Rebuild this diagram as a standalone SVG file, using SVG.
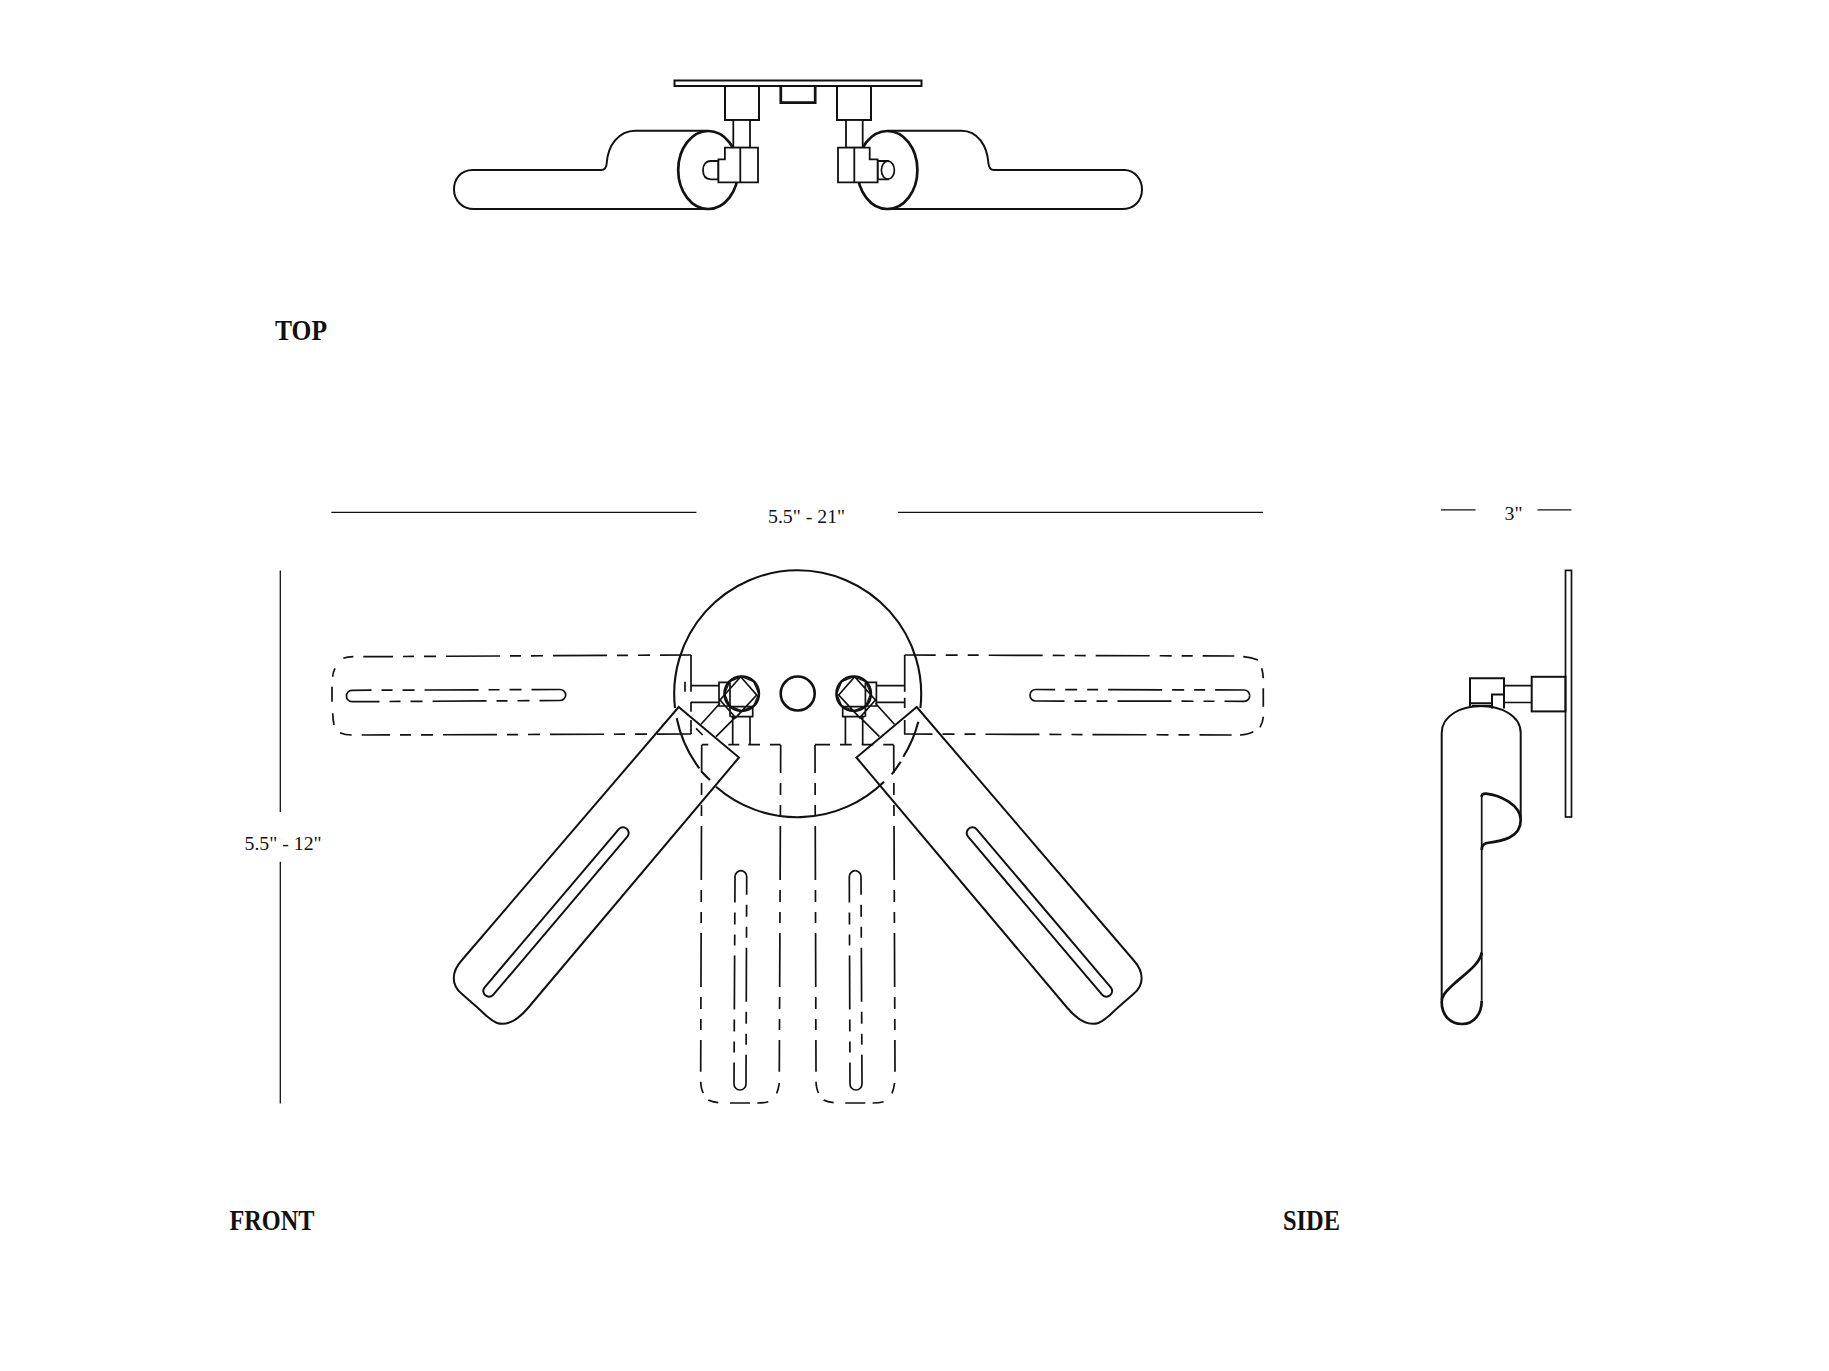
<svg xmlns="http://www.w3.org/2000/svg" width="1829" height="1371" viewBox="0 0 1829 1371">
<style>
.l{fill:none;stroke:#111;stroke-width:1.7;stroke-linejoin:miter;stroke-linecap:butt}
.m{fill:none;stroke:#111;stroke-width:2}
.w{fill:#fff;stroke:#111;stroke-width:1.8}
.t{fill:none;stroke:#111;stroke-width:2.7}
.d{fill:none;stroke:#111;stroke-width:1.7;stroke-dasharray:54 10 12 10 11 10}
.dim{font-family:"Liberation Serif",serif;font-size:19.8px;fill:#111}
.ttl{font-family:"Liberation Serif",serif;font-weight:700;font-size:29px;fill:#111}
</style>
<defs>
<g id="lower-corners" class="l">
<path d="M700.7,1081.7Q701,1089 703.3,1093M708.3,1100Q712,1102 718.3,1102.7M730,1103H750M757.3,1103Q764,1103 768.3,1101.7M776.7,1093.3Q778.5,1089 779.3,1083"/>
</g>
<polygon id="oct" class="l" style="stroke-width:1.2" points="0,-17 12,-12 17,0 12,12 0,17 -12,12 -17,0 -12,-12"/>
</defs>
<rect width="1829" height="1371" fill="#fff"/>
<g id="top-view">
<path class="m" d="M707.7,130.7H635.5C618,130.7 608,146 606.7,163Q606.5,170 601,170H472.6C460,170 454,180 454,189.5C454,200 462,209 474,209H707.7"/>
<path class="m" d="M887.7,130.7H961.4C978,130.7 987,146 988.4,163Q989,170 994,170H1124.4C1135,170 1142,180 1142,189.5C1142,200 1135,209 1122,209H887.7"/>
<ellipse class="t" cx="708.2" cy="170" rx="30" ry="39"/>
<ellipse class="t" cx="887.4" cy="170" rx="30" ry="39"/>
<rect class="m" x="674.5" y="80.5" width="247" height="5.5"/>
<rect class="m" x="725" y="86" width="34" height="34"/>
<rect class="m" x="837" y="86" width="34" height="34"/>
<path class="t" d="M780.8,86V102.7H815.2V86"/>
<rect class="w" x="733.3" y="120" width="16.7" height="27.7"/>
<rect class="w" x="846" y="120" width="16.7" height="27.7"/>
<path class="w" d="M718.4,161H711C705,161 703,166 703,170C703,175 705,179.3 711,179.3H718.4Z"/>
<path class="w" d="M877.6,161H888V179.3H877.6Z"/>
<ellipse class="l" cx="887.9" cy="170.2" rx="6.5" ry="9" style="fill:#fff"/>
<path class="w" d="M724.9,147.7H758V182.3H718.4V159.3H724.9ZM740.3,147.7V182.3"/>
<path class="w" d="M838,147.7H869.7V159.3H877.6V182.3H838ZM854.3,147.7V182.3"/>
</g>
<g id="front-view">
<path class="l" style="stroke-width:2.1" d="M675,708A123.6,123.6 0 0 1 797.7,570.3A123.6,123.6 0 0 1 920.4,708"/>
<path class="l" style="stroke-width:2.1" d="M676.7,718.3A123.6,123.6 0 0 0 699.3,768.3M701.7,771.7A123.6,123.6 0 0 0 710,780M716,786.7A123.6,123.6 0 0 0 884,781.7M891.7,774.3A123.6,123.6 0 0 0 900.7,761.7M903.3,756.7A123.6,123.6 0 0 0 918.3,721.7"/>
<circle cx="797.7" cy="693.5" r="17" class="l" style="stroke-width:2.6"/>
<g id="hardware-left">
<path class="l" d="M691,685.7H719M691,702.3H719M730,682.3H719V706H730M730,682.3V716.7M730.7,706.7H752.7V716.7H730.7M732.7,716.7V745M750,716.7V745M740.7,676.7L720,700L735.7,717.7L756.7,695ZM701,724.3L720,703.3M716,736.7L735,717.7"/>
<circle cx="741.7" cy="693.7" r="17.3" class="l" style="stroke-width:2.4"/>
<use href="#oct" x="741.7" y="693.7"/>
</g>
<g id="hardware-right">
<path class="l" d="M904.4,685.7H876.4M904.4,702.3H876.4M865.4,682.3H876.4V706H865.4M865.4,682.3V716.7M864.7,706.7H842.7V716.7H864.7M862.7,716.7V745M845.4,716.7V745M854.7,676.7L875.4,700L859.7,717.7L838.7,695ZM894.4,724.3L875.4,703.3M879.4,736.7L860.4,717.7"/>
<circle cx="853.7" cy="693.7" r="17.3" class="l" style="stroke-width:2.4"/>
<use href="#oct" x="853.7" y="693.7"/>
</g>
<g id="arm-upper-left">
<path class="d" style="stroke-dashoffset:23" d="M691,655L363.3,656.7"/>
<path class="d" style="stroke-dashoffset:20" d="M691,734L361.7,735"/>
<path class="l" d="M353.3,656.7Q347,657 343.3,658.3M335,668.3Q333,672 332.7,676.7M332,686.7V701.7M332.7,713.3Q333,720 334,725M340,732.7Q345,735 351.7,735"/>
<path class="l" d="M691,655V691.7M691,701.7V711.7M691,720V734M685,681.7V691.7M696,728.3L702.7,735"/>
<path class="d" style="stroke-dashoffset:17" d="M565.7,695A5.7,5.7 0 0 0 560,689.5L352,690.3A5.5,5.5 0 0 0 346.5,696"/>
<path class="d" style="stroke-dashoffset:25" d="M565.7,695A5.7,5.7 0 0 1 560,700.5L352,701.7A5.5,5.5 0 0 1 346.5,696"/>
</g>
<g id="arm-upper-right">
<path class="d" style="stroke-dashoffset:23" d="M904.7,655L1234.3,656"/>
<path class="d" style="stroke-dashoffset:25.5" d="M904,734L1231.7,735"/>
<path class="l" d="M1243.3,656.7Q1252,657.5 1258,660M1261.7,668.3Q1263,673 1263.3,678.3M1263.3,688.3V706.7M1263.3,716.7Q1263,722 1260,727.3M1253.3,731.7Q1248,734.5 1240,735"/>
<path class="l" d="M904.7,655V691.7M904.7,697.7V708M904.7,720V734"/>
<path class="d" style="stroke-dashoffset:26" d="M1030,695A5.7,5.7 0 0 1 1036,689.5L1244,690A5.5,5.5 0 0 1 1249.7,695.5"/>
<path class="d" style="stroke-dashoffset:16" d="M1030,695A5.7,5.7 0 0 0 1036,701L1244,701.3A5.5,5.5 0 0 0 1249.7,695.5"/>
</g>
<g id="arm-lower-left">
<path class="d" style="stroke-dashoffset:26" d="M701.7,745L700.7,1071.7"/>
<path class="d" style="stroke-dashoffset:26" d="M780.7,745L779.3,1071.7"/>
<use href="#lower-corners"/>
<path class="l" d="M701.7,744.7H708.3M728.3,744.7H739.3M748.3,744.7H760M770,744.7H780.7"/>
<path class="d" style="stroke-dashoffset:19" d="M741,870.7A6,6 0 0 0 735,877L734,1084A6,6 0 0 0 740,1090"/>
<path class="d" style="stroke-dashoffset:27" d="M741,870.7A6,6 0 0 1 746.7,877L746,1084A6,6 0 0 1 740,1090"/>
</g>
<g id="arm-lower-right">
<path class="d" style="stroke-dashoffset:26" d="M815,745L816,1071.7"/>
<path class="d" style="stroke-dashoffset:26" d="M893.7,745L895,1071.7"/>
<use href="#lower-corners" x="115.3"/>
<path class="l" d="M815,744.7H830M840,744.7H851.7M861.7,744.7H873.3M883.3,744.7H893.7"/>
<path class="d" style="stroke-dashoffset:19" d="M855.3,870.7A6,6 0 0 0 849.3,877L850,1084A6,6 0 0 0 856,1090"/>
<path class="d" style="stroke-dashoffset:27" d="M855.3,870.7A6,6 0 0 1 861,877L862,1084A6,6 0 0 1 856,1090"/>
</g>
<g id="arm-left">
<path class="m" d="M678.7,707L739,757.5L528,1008C517,1021 507,1026 497,1023C488,1019 484,1013 478,1008L462,994C451,985 451,972 462,960Z"/>
<path class="m" d="M627.35,836.7L493.35,994.7A5.7,5.7 0 0 1 484.65,987.3L618.65,829.3A5.7,5.7 0 0 1 627.35,836.7Z"/>
</g>
<g id="arm-right">
<path class="m" d="M916.7,707L856.4,757.5L1067.4,1008C1078.4,1021 1088.4,1026 1098.4,1023C1107.4,1019 1111.4,1013 1117.4,1008L1133.4,994C1144.4,985 1144.4,972 1133.4,960Z"/>
<path class="m" d="M968.05,836.7L1102.05,994.7A5.7,5.7 0 0 0 1110.75,987.3L976.75,829.3A5.7,5.7 0 0 0 968.05,836.7Z"/>
</g>
</g>
<g id="side-view">
<rect class="l" x="1565.5" y="570.4" width="6" height="246.6"/>
<rect class="m" x="1531.7" y="676.8" width="33.8" height="34.6"/>
<path class="l" d="M1504,685.7H1531.7M1504,702.5H1531.7"/>
<path class="m" d="M1470,707V678.2H1504V708.6M1470,703.2H1492V694.6H1504M1492,703.2V708.6"/>
<path class="t" style="stroke-width:2.2" d="M1472,706H1491"/>
<path class="m" d="M1441.7,733C1441.7,715 1462,706 1481,706C1500,706 1520.7,715 1520.7,733V818"/>
<path class="m" d="M1441.7,733V1000"/>
<path class="l" d="M1481.7,795V1000.7"/>
<path class="t" d="M1481.7,797C1481.7,795 1482,793.5 1486,793.6C1500,795 1520.7,805 1520.7,820C1520.7,838 1502,841 1487,843Q1481.7,844 1481.7,850"/>
<path class="t" d="M1481.7,952.5C1480,965 1462,976 1453.3,984.6C1444,993 1441.7,997 1441.7,1002C1441.7,1015 1450,1024 1462,1024C1474,1024 1481.7,1014 1481.7,1000.7"/>
</g>
<g id="dimensions">
<path class="l" style="stroke-width:1.3" d="M331.3,512.4H696.4M898,512.4H1263M280.3,570.4V812M280.3,861.7V1103.5M1441,509.8H1475.6M1537.5,509.8H1571.5"/>
<text class="dim" x="768" y="522.5">5.5" - 21"</text>
<text class="dim" x="244.5" y="850">5.5" - 12"</text>
<text class="dim" x="1504.5" y="519.5">3"</text>
</g>
<g id="titles">
<text class="ttl" x="275" y="340" textLength="52" lengthAdjust="spacingAndGlyphs">TOP</text>
<text class="ttl" x="229.5" y="1230" textLength="85" lengthAdjust="spacingAndGlyphs">FRONT</text>
<text class="ttl" x="1283" y="1230" textLength="57" lengthAdjust="spacingAndGlyphs">SIDE</text>
</g>
</svg>
